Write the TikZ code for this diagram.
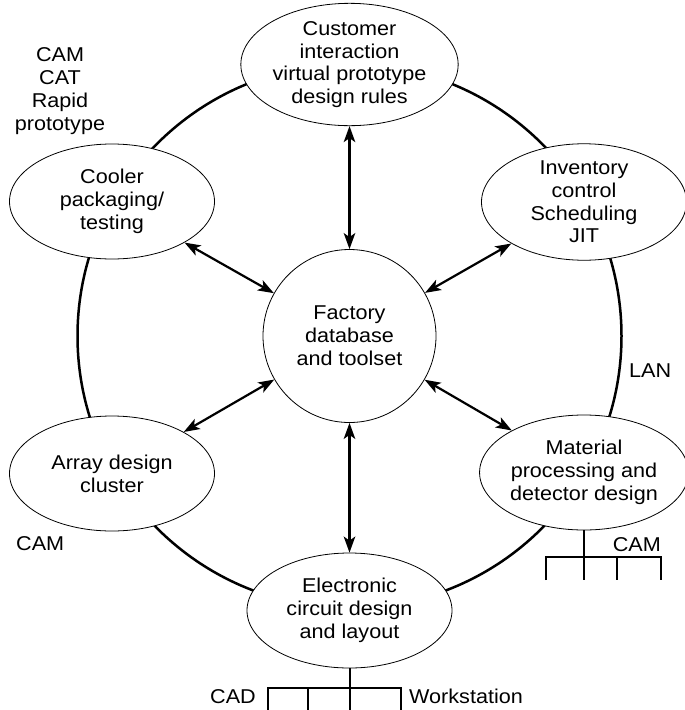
\documentclass[tikz,border=0pt]{standalone}
\usepackage{fontspec}
\setmainfont{Liberation Sans}[FakeStretch=1.08]
\usetikzlibrary{arrows.meta,shapes.geometric}
\begin{document}
\begin{tikzpicture}[x=1pt,y=-1pt,
  txt/.style={font=\fontsize{20}{22.8}\selectfont, align=center, inner sep=0pt},
  blob/.style={ellipse, draw, line width=0.8pt, fill=white,
    minimum width=205pt, minimum height=115pt, inner sep=-30pt, txt},
  hub/.style={circle, draw, line width=0.8pt, fill=white,
    minimum size=173pt, inner sep=0pt, txt},
  ring/.style={line width=2.5pt},
  tip/.style={Stealth[length=16pt,width=11.5pt,inset=4pt]},
  link/.style={line width=2.2pt, {Stealth[length=16pt,width=11.5pt,inset=4pt]}-{Stealth[length=16pt,width=11.5pt,inset=4pt]}},
  bus/.style={line width=2pt}
]
\useasboundingbox (0,0) rectangle (685,710);

% LAN ring
\draw[ring] (349.5,336) circle (272);

% stations
\node[blob] (T) at (349.5,64.5) {Customer\\interaction\\virtual prototype\\design rules};
\node[blob] (C) at (112,201.5) {Cooler\\packaging/\\testing};
\node[blob] (I) at (584,202) {Inventory\\control\\Scheduling\\JIT};
\node[blob] (A) at (112,473.5) {Array design\\cluster};
\node[blob] (M) at (584,472.5) {Material\\processing and\\detector design};
\node[blob] (E) at (349.5,610.5) {Electronic\\circuit design\\and layout};
\node[hub] (F) at (349.5,336) {Factory\\database\\and toolset};

% links to the central database
\draw[link] (T) -- (F);
\draw[link] (E) -- (F);
\draw[link] (C) -- (F);
\draw[link] (I) -- (F);
\draw[link] (A) -- (F);
\draw[link] (M) -- (F);

% side labels
\node[txt] (lcam) at (60,91) {CAM\\CAT\\Rapid\\prototype};
\node[txt, anchor=base west] (llan) at (629,377) {LAN};
\node[txt, anchor=base west] (lcam2) at (16,550) {CAM};
\node[txt, anchor=base east] (lcam3) at (661,551) {CAM};
\node[txt, anchor=base east] (lcad) at (256,703) {CAD};
\node[txt, anchor=base west] (lws) at (409,703) {Workstation};

% workstation bus below the circuit design station
\coordinate (eb) at (349.5,688);
\coordinate (eb1) at (268,688);
\coordinate (eb2) at (308,688);
\coordinate (eb4) at (401,688);
\coordinate (ee1) at (268,712);
\coordinate (ee2) at (308,712);
\coordinate (ee3) at (349.5,712);
\coordinate (ee4) at (401,712);
\draw[bus] (E.south) -- (eb);
\draw[bus] (ee1) -- (eb1) -- (eb4) -- (ee4);
\draw[bus] (eb2) -- (ee2);
\draw[bus] (eb) -- (ee3);

% CAM bus below the material station
\coordinate (mb) at (584,557);
\coordinate (mb1) at (545.5,557);
\coordinate (mb3) at (617,557);
\coordinate (mb4) at (660.5,557);
\coordinate (me1) at (545.5,580);
\coordinate (me2) at (584,580);
\coordinate (me3) at (617,580);
\coordinate (me4) at (660.5,580);
\draw[bus] (M.south) -- (mb);
\draw[bus] (me1) -- (mb1) -- (mb4) -- (me4);
\draw[bus] (mb3) -- (me3);
\draw[bus] (mb) -- (me2);
\end{tikzpicture}
\end{document}
